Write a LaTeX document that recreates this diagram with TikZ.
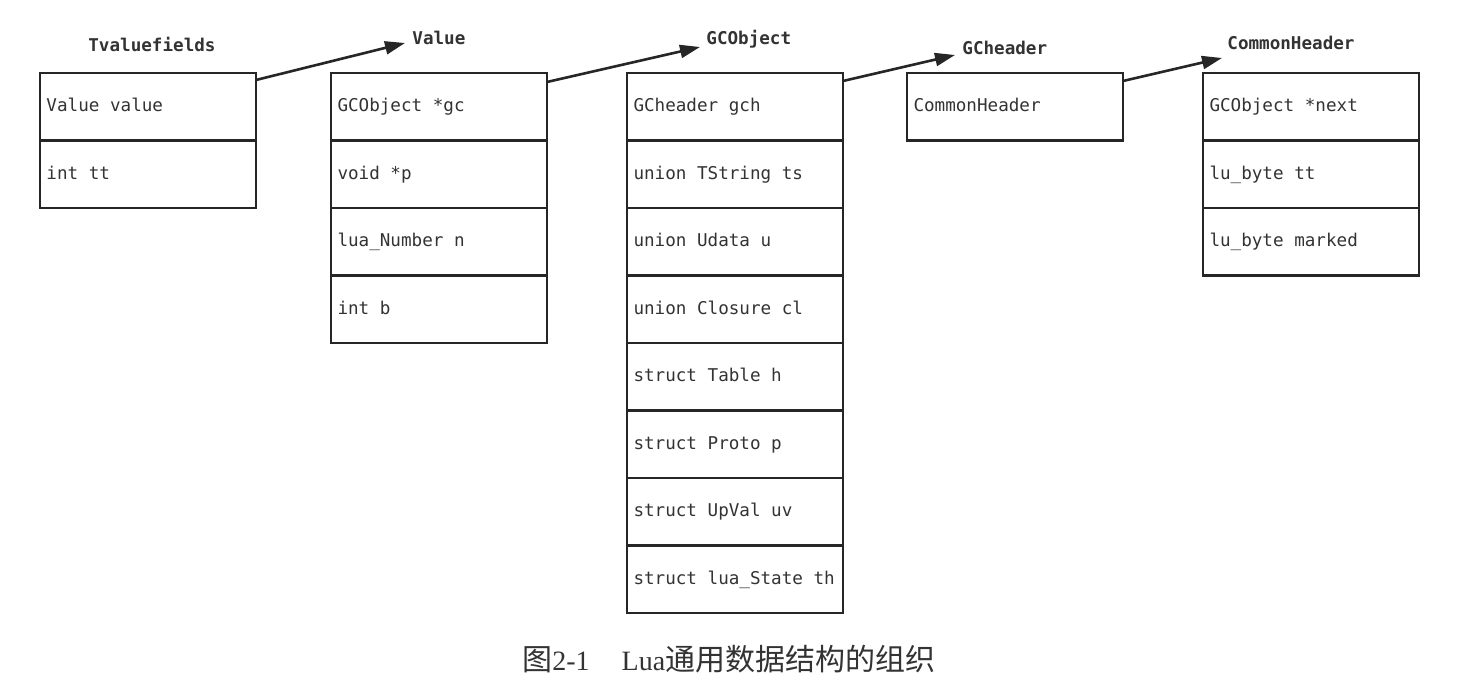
\documentclass[tikz,border=0pt]{standalone}
\usepackage{fontspec}
\setmainfont{Liberation Serif}
\setmonofont{DejaVu Sans Mono}
\newfontfamily\cjkfont{Noto Sans CJK SC}
\usetikzlibrary{arrows.meta}
\definecolor{ink}{HTML}{262626}
\definecolor{txt}{HTML}{333333}
\newcommand\codefont{\ttfamily\fontsize{8.8}{10}\selectfont}
\newcommand\codebfont{\ttfamily\bfseries\fontsize{8.8}{10}\selectfont}
\begin{document}
\begin{tikzpicture}[x=0.5pt,y=-0.5pt,
  row/.style={draw=ink, line width=1.3pt, minimum width=108pt, minimum height=33.75pt,
    text width=101.5pt, align=left, inner xsep=3.25pt, inner ysep=0pt, outer sep=0pt,
    text height=6.5pt, text depth=1.5pt, anchor=north west,
    font=\codefont, text=txt,
    execute at begin node={\spaceskip=0.602em\xspaceskip=0.602em\relax}},
  nextrow/.style={row, anchor=north},
  boxtitle/.style={anchor=base west, inner sep=0pt,
    font=\codebfont, text=txt},
  arr/.style={draw=ink, line width=1.3pt, -{Triangle[length=10pt,width=6.5pt]}}]
\useasboundingbox (0,0) rectangle (1471,694);
\fill[white] (0,0) rectangle (1471,694);

% titles
\node[boxtitle] (ttv) at (88,52) {Tvaluefields};
\node[boxtitle] (tval) at (412,45) {Value};
\node[boxtitle] (tgco) at (706,45) {GCObject};
\node[boxtitle] (tgch) at (962,55) {GCheader};
\node[boxtitle] (tcom) at (1227,50) {CommonHeader};

% Tvaluefields
\node[row] (tv1) at (40,73) {Value value};
\node[nextrow] (tv2) at (tv1.south) {int tt};

% Value
\node[row] (va1) at (331,73) {GCObject *gc};
\node[nextrow] (va2) at (va1.south) {void *p};
\node[nextrow] (va3) at (va2.south) {lua\_Number n};
\node[nextrow] (va4) at (va3.south) {int b};

% GCObject
\node[row] (go1) at (627,73) {GCheader gch};
\node[nextrow] (go2) at (go1.south) {union TString ts};
\node[nextrow] (go3) at (go2.south) {union Udata u};
\node[nextrow] (go4) at (go3.south) {union Closure cl};
\node[nextrow] (go5) at (go4.south) {struct Table h};
\node[nextrow] (go6) at (go5.south) {struct Proto p};
\node[nextrow] (go7) at (go6.south) {struct UpVal uv};
\node[nextrow] (go8) at (go7.south) {struct lua\_State th};

% GCheader
\node[row] (gh1) at (907,73) {CommonHeader};

% CommonHeader
\node[row] (ch1) at (1203,73) {GCObject *next};
\node[nextrow] (ch2) at (ch1.south) {lu\_byte tt};
\node[nextrow] (ch3) at (ch2.south) {lu\_byte marked};

% arrow tips
\coordinate (tip1) at (405,43);
\coordinate (tip2) at (700,47);
\coordinate (tip3) at (955,55);
\coordinate (tip4) at (1222,58);

\draw[arr] ([yshift=-3.5pt]tv1.north east) -- (tip1);
\draw[arr] ([yshift=-4.5pt]va1.north east) -- (tip2);
\draw[arr] ([yshift=-4pt]go1.north east) -- (tip3);
\draw[arr] ([yshift=-4pt]gh1.north east) -- (tip4);

% caption
\node[anchor=base west, inner sep=0pt, text=txt, font=\fontsize{14}{16}\selectfont] (cap) at (522,670)
  {{\cjkfont\fontsize{15}{16}\selectfont 图}2-1\hspace{16pt}Lua{\cjkfont\fontsize{15}{16}\selectfont 通用数据结构的组织}};
\end{tikzpicture}
\end{document}
